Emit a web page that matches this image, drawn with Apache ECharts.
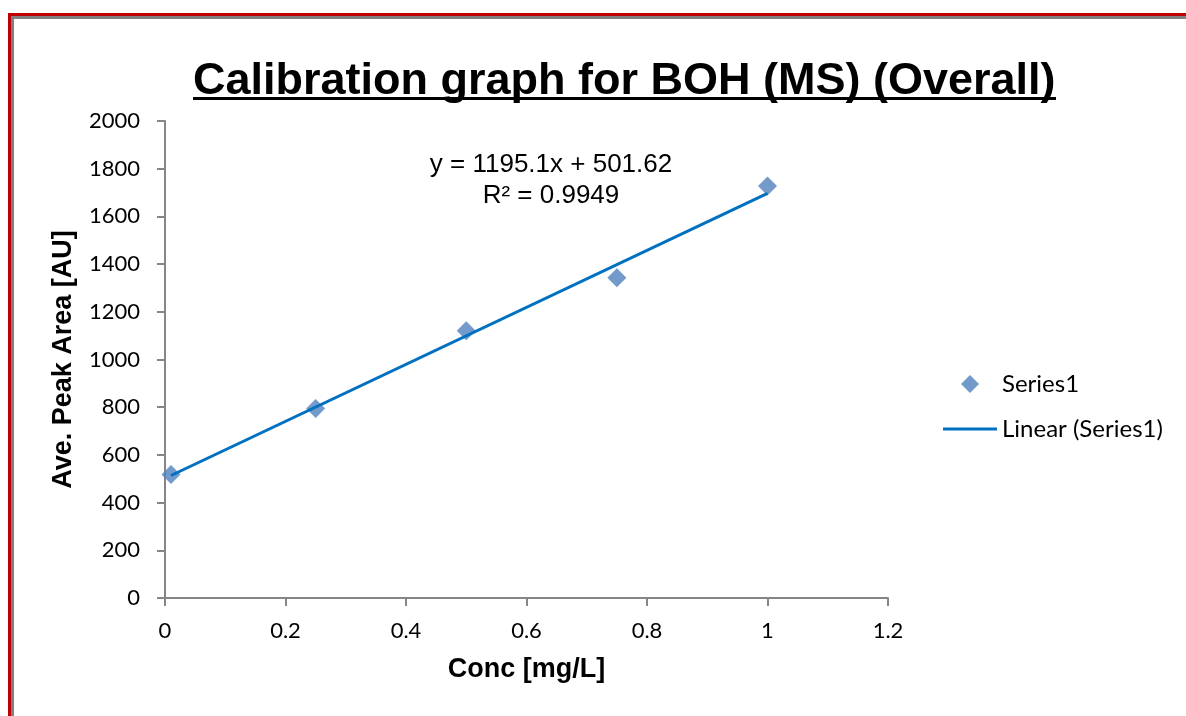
<!DOCTYPE html>
<html>
<head>
<meta charset="utf-8">
<script src="https://cdn.jsdelivr.net/npm/echarts@6/dist/echarts.min.js"></script>
<style>
html,body{margin:0;padding:0;background:#fff;}
#chart{width:1186px;height:716px;}
</style>
</head>
<body>
<div id="chart"></div>
<script>
// Data
var concX = [0.01, 0.25, 0.5, 0.75, 1.0];
var peakArea = [518, 795, 1121, 1343, 1727];
var trendX = [0.01, 1.0];
var trendY = [513.6, 1696.7];
var xTicks = [0, 0.2, 0.4, 0.6, 0.8, 1, 1.2];
var yTicks = [0, 200, 400, 600, 800, 1000, 1200, 1400, 1600, 1800, 2000];
var titleText = 'Calibration graph for BOH (MS) (Overall)';
var eqLine1 = 'y = 1195.1x + 501.62';
var eqLine2 = 'R² = 0.9949';

var scatterData = concX.map(function (x, i) { return [x, peakArea[i]]; });
var trendData = trendX.map(function (x, i) { return [x, trendY[i]]; });

var chart = echarts.init(document.getElementById('chart'), null, {renderer: 'canvas'});
var labelFont = 'Lato, "Liberation Sans", sans-serif';
var arial = '"Liberation Sans", Arial, sans-serif';
var option = {
  backgroundColor: '#ffffff',
  animation: false,
  title: {
    text: titleText,
    left: 188,
    top: 54,
    textStyle: {fontFamily: arial, fontWeight: 'bold', fontSize: 45, color: '#000'}
  },
  grid: {left: 165, right: 298, top: 121, bottom: 118},
  xAxis: {
    type: 'value', min: 0, max: 1.2, interval: 0.2,
    name: 'Conc [mg/L]', nameLocation: 'middle', nameGap: 58,
    nameTextStyle: {fontFamily: arial, fontWeight: 'bold', fontSize: 27, color: '#000'},
    axisLine: {show: true, lineStyle: {color: '#868686', width: 2}},
    axisTick: {show: true, length: 8, lineStyle: {color: '#868686', width: 2}},
    axisLabel: {fontFamily: labelFont, fontSize: 22, color: '#000', margin: 22,
      formatter: function (v) { return String(Math.round(v * 10) / 10); }},
    splitLine: {show: false}
  },
  yAxis: {
    type: 'value', min: 0, max: 2000, interval: 200,
    name: 'Ave. Peak Area [AU]', nameLocation: 'middle', nameGap: 88,
    nameTextStyle: {fontFamily: arial, fontWeight: 'bold', fontSize: 27, color: '#000'},
    axisLine: {show: true, lineStyle: {color: '#868686', width: 2}},
    axisTick: {show: true, length: 8, lineStyle: {color: '#868686', width: 2}},
    axisLabel: {fontFamily: labelFont, fontSize: 22, color: '#000', margin: 25,
      formatter: function (v) { return String(v); }},
    splitLine: {show: false}
  },
  legend: [
    {
      data: [{name: 'Series1', icon: 'diamond'}],
      orient: 'vertical', left: 956, top: 367,
      itemWidth: 18, itemHeight: 18,
      textStyle: {fontFamily: labelFont, fontSize: 24, color: '#000', padding: [0, 0, 0, 18]}
    },
    {
      data: [{name: 'Linear (Series1)', icon: 'rect'}],
      orient: 'vertical', left: 938, top: 412,
      itemWidth: 54, itemHeight: 3,
      textStyle: {fontFamily: labelFont, fontSize: 24, color: '#000'}
    }
  ],
  series: [
    {
      name: 'Series1', type: 'scatter', data: scatterData,
      symbol: 'diamond', symbolSize: 19,
      itemStyle: {color: '#4F81BD'}, z: 2
    },
    {
      name: 'Linear (Series1)', type: 'line', data: trendData,
      showSymbol: false, symbol: 'none',
      lineStyle: {color: '#0070C0', width: 3},
      itemStyle: {color: '#0070C0'}, z: 3
    }
  ],
  graphic: [
    {type: 'rect', left: 8, top: 13, shape: {width: 1178, height: 3}, style: {fill: '#C00000'}, z: 10},
    {type: 'rect', left: 8, top: 13, shape: {width: 3, height: 703}, style: {fill: '#C00000'}, z: 10},
    {type: 'rect', left: 11, top: 16, shape: {width: 1175, height: 3}, style: {fill: '#808080'}, z: 10},
    {type: 'rect', left: 11, top: 16, shape: {width: 3, height: 700}, style: {fill: '#808080'}, z: 10},
    {type: 'rect', left: 193, top: 97, shape: {width: 863, height: 3}, style: {fill: '#000'}, z: 10},
    {type: 'text', x: 551, y: 152, style: {text: eqLine1, textAlign: 'center', fontFamily: arial, fontSize: 26, fill: '#000'}, z: 10},
    {type: 'text', x: 551, y: 183, style: {text: eqLine2, textAlign: 'center', fontFamily: arial, fontSize: 26, fill: '#000'}, z: 10}
  ]
};
chart.setOption(option);
</script>
</body>
</html>
